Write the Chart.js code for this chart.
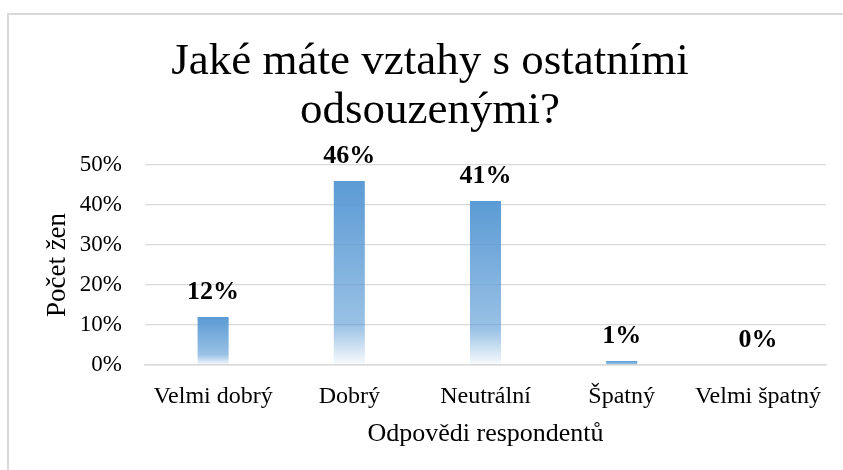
<!DOCTYPE html>
<html>
<head>
<meta charset="utf-8">
<style>
  body { margin: 0; background: #fff; }
  #wrap { position: relative; width: 843px; height: 470px; overflow: hidden; }
  #frame {
    position: absolute; left: 7px; top: 13px; width: 900px; height: 500px;
    border-top: 2px solid #d9d9d9; border-left: 2px solid #d9d9d9;
  }
  #chart { position: absolute; left: 0; top: 0; }
</style>
<script src="https://cdn.jsdelivr.net/npm/chart.js@4.4.0/dist/chart.umd.min.js"></script>
</head>
<body>
<div id="wrap">
  <div id="frame"></div>
  <canvas id="chart" width="843" height="470"></canvas>
</div>
<script>
const categories = ["Velmi dobrý", "Dobrý", "Neutrální", "Špatný", "Velmi špatný"];
const shares = [12, 46, 41, 1, 0];
const titleLines = ["Jaké máte vztahy s ostatními", "odsouzenými?"];
const yTitle = "Počet žen";
const xTitle = "Odpovědi respondentů";

const FONT = "'Liberation Serif', 'Times New Roman', serif";
const BLUE = "rgb(91,155,213)";

function barFill(ctx) {
  const chart = ctx.chart;
  if (!chart.chartArea) return BLUE;
  const y = chart.scales.y;
  const top = y.getPixelForValue(ctx.raw);
  const base = y.getPixelForValue(0);
  if (base - top < 2) return BLUE;
  const g = chart.ctx.createLinearGradient(0, top, 0, base);
  g.addColorStop(0, "rgba(91,155,213,1)");
  g.addColorStop(0.78, "rgba(91,155,213,0.62)");
  g.addColorStop(1, "rgba(91,155,213,0.04)");
  return g;
}

// value labels above the bars
const valueLabels = {
  id: "valueLabels",
  afterDatasetsDraw(chart) {
    const c = chart.ctx;
    const meta = chart.getDatasetMeta(0);
    c.save();
    c.font = "bold 26px " + FONT;
    c.fillStyle = "#000";
    c.textAlign = "center";
    c.textBaseline = "alphabetic";
    meta.data.forEach((el, i) => {
      c.fillText(shares[i] + "%", el.x, el.y - 18);
    });
    c.restore();
  }
};

new Chart(document.getElementById("chart"), {
  type: "bar",
  data: {
    labels: categories,
    datasets: [{
      data: shares,
      backgroundColor: barFill,
      borderWidth: 0,
      categoryPercentage: 1,
      barPercentage: 0.228
    }]
  },
  plugins: [valueLabels],
  options: {
    responsive: false,
    animation: false,
    layout: { padding: { left: 34, right: 17, top: 0, bottom: 0 } },
    plugins: {
      legend: { display: false },
      tooltip: { enabled: false },
      title: {
        display: true,
        text: titleLines,
        color: "#000",
        font: { family: FONT, size: 45, weight: "normal", lineHeight: 1.1 },
        padding: { top: 37, bottom: 29 }
      }
    },
    scales: {
      x: {
        grid: { display: false, drawTicks: false },
        border: { display: true, color: "#d9d9d9", width: 1.5 },
        ticks: { color: "#000", font: { family: FONT, size: 24 }, padding: 17, maxRotation: 0 },
        title: {
          display: true, text: xTitle, color: "#000",
          font: { family: FONT, size: 26 },
          padding: { top: 0, bottom: 20 }
        },
        afterFit(s) { s.height = 105; }
      },
      y: {
        min: 0, max: 50,
        grid: { color: "#d9d9d9", lineWidth: 1.3, drawTicks: false },
        border: { display: false },
        ticks: {
          stepSize: 10, color: "#000", padding: 23,
          font: { family: FONT, size: 23 },
          callback: v => v + "%"
        },
        title: {
          display: true, text: yTitle, color: "#000",
          font: { family: FONT, size: 27 },
          padding: { top: 8, bottom: 0 }
        },
        afterFit(s) { s.width = 111; }
      }
    }
  }
});
</script>
</body>
</html>
